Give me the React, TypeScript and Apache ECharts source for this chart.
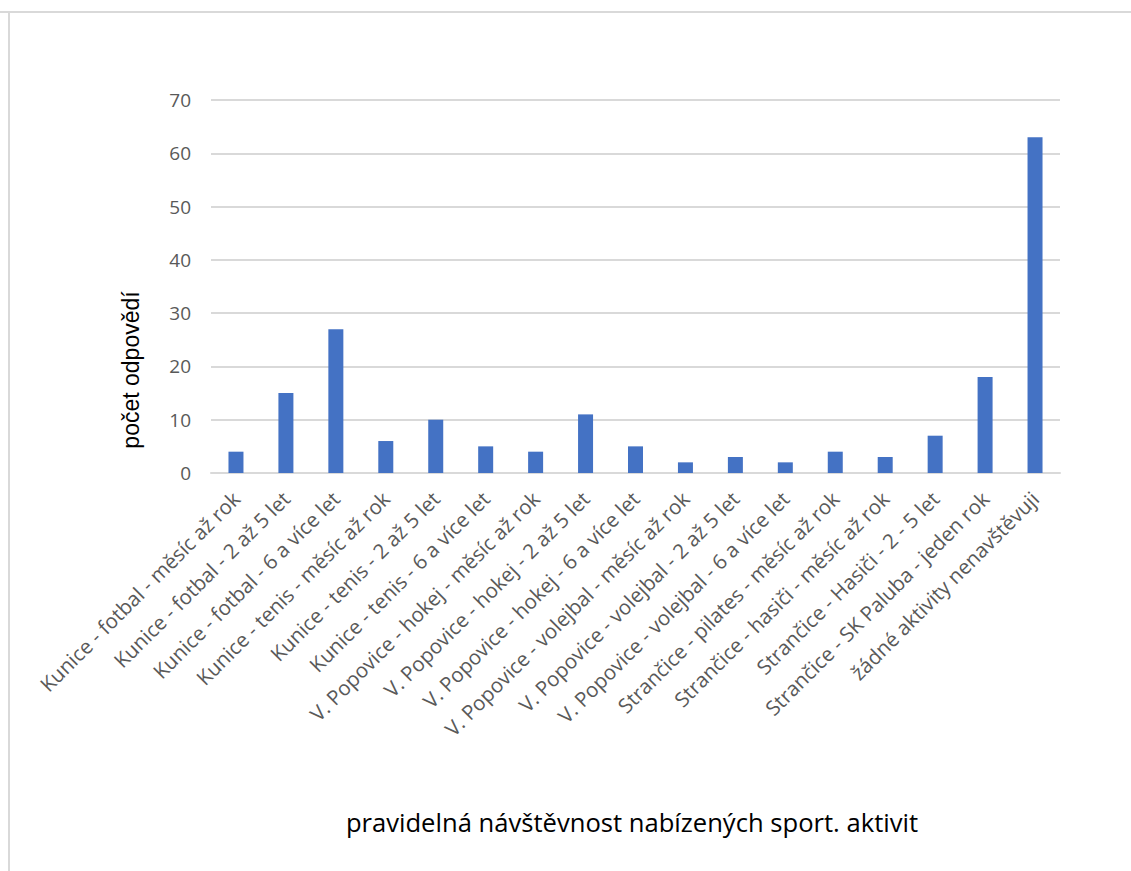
import React, { useEffect, useRef } from "react";
import * as echarts from "echarts";

const categories = [
  "Kunice - fotbal - měsíc až rok",
  "Kunice - fotbal - 2 až 5 let",
  "Kunice - fotbal - 6 a více let",
  "Kunice - tenis - měsíc až rok",
  "Kunice - tenis - 2 až 5 let",
  "Kunice - tenis - 6 a více let",
  "V. Popovice - hokej - měsíc až rok",
  "V. Popovice - hokej - 2 až 5 let",
  "V. Popovice - hokej - 6 a více let",
  "V. Popovice - volejbal - měsíc až rok",
  "V. Popovice - volejbal - 2 až 5 let",
  "V. Popovice - volejbal - 6 a více let",
  "Strančice - pilates - měsíc až rok",
  "Strančice - hasiči - měsíc až rok",
  "Strančice - Hasiči - 2 - 5 let",
  "Strančice - SK Paluba - jeden rok",
  "žádné aktivity nenavštěvuji",
];
const values = [4, 15, 27, 6, 10, 5, 4, 11, 5, 2, 3, 2, 4, 3, 7, 18, 63];
const yTicks = { min: 0, max: 70, interval: 10 };
const xTitle = "pravidelná návštěvnost nabízených sport. aktivit";
const yTitle = "počet odpovědí";

export default function App() {
  const ref = useRef<HTMLDivElement>(null);
  useEffect(() => {
    const chart = echarts.init(ref.current!, null, { renderer: "svg" });
    chart.setOption({
      animation: false,
      backgroundColor: "#ffffff",
      textStyle: { fontFamily: "Open Sans" },
      grid: { left: 211, right: 71, top: 100, bottom: 398, containLabel: false },
      graphic: [
        { type: "line", shape: { x1: 0, y1: 12, x2: 1131, y2: 12 }, style: { stroke: "#d9d9d9", lineWidth: 2 } },
        { type: "line", shape: { x1: 9, y1: 12, x2: 9, y2: 871 }, style: { stroke: "#d9d9d9", lineWidth: 2 } },
        {
          type: "text",
          x: 632,
          y: 822,
          style: {
            text: xTitle,
            fontSize: 25.6,
            fontFamily: "Open Sans",
            fill: "#000000",
            align: "center",
            verticalAlign: "middle",
          },
        },
        {
          type: "text",
          x: 131,
          y: 370,
          rotation: Math.PI / 2,
          style: {
            text: yTitle,
            fontSize: 23,
            fontFamily: "Liberation Sans",
            fill: "#000000",
            align: "center",
            verticalAlign: "middle",
          },
        },
      ],
      xAxis: {
        type: "category",
        data: categories,
        axisLine: { lineStyle: { color: "#d9d9d9", width: 2 } },
        axisTick: { show: false },
        axisLabel: { rotate: 45, fontSize: 20.5, color: "#595959", margin: 22, interval: 0 },
      },
      yAxis: {
        type: "value",
        min: yTicks.min,
        max: yTicks.max,
        interval: yTicks.interval,
        axisLine: { show: false },
        axisTick: { show: false },
        axisLabel: { fontSize: 19, color: "#595959", margin: 20 },
        splitLine: { lineStyle: { color: "#d9d9d9", width: 2 } },
      },
      series: [
        {
          type: "bar",
          data: values,
          barWidth: 15,
          itemStyle: { color: "#4472c4" },
        },
      ],
    });
    return () => chart.dispose();
  }, []);
  return (
    <div
      ref={ref}
      style={{ position: "absolute", left: 0, top: 0, width: 1131, height: 871 }}
    />
  );
}
